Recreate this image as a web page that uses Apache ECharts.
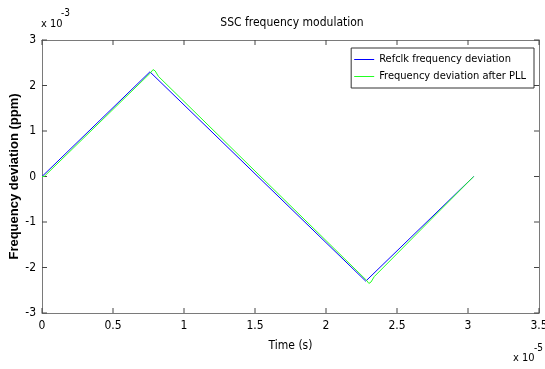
<!DOCTYPE html>
<html>
<head>
<meta charset="utf-8">
<script src="https://cdn.jsdelivr.net/npm/echarts@6/dist/echarts.min.js"></script>
<style>
  html, body { margin: 0; padding: 0; background: #fff; }
  #chart { width: 545px; height: 369px; }
</style>
</head>
<body>
<div id="chart"></div>
<script>
// time in units of 1e-5 s, deviation in units of 1e-3
var refTime = [0, 0.76, 2.28, 3.04]
var refDev = [0, 2.3, -2.3, 0]
var pllTime = [0, 0.015, 0.765, 0.782, 0.797, 0.82, 2.285, 2.302, 2.317, 2.34, 3.04]
var pllDev = [0, 0, 2.28, 2.35, 2.32, 2.2, -2.28, -2.35, -2.32, -2.2, 0]
var xTicks = [0, 0.5, 1, 1.5, 2, 2.5, 3, 3.5]
var yTicks = [-3, -2, -1, 0, 1, 2, 3]

var font = '"Liberation Sans Narrow", "DejaVu Sans Condensed", "Liberation Sans", sans-serif'
var tickLen = 5

function pairs(xs, ys) {
  return xs.map(function (x, i) { return [x, ys[i]] })
}

// MATLAB style box on all four sides
function boxAxis(pos, values, extra) {
  var ax = {
    type: 'value',
    position: pos,
    min: values[0],
    max: values[values.length - 1],
    interval: values[1] - values[0],
    axisLine: { show: true, onZero: false, lineStyle: { color: '#7a7a7a', width: 1 } },
    axisTick: { show: false },
    splitLine: { show: false },
    axisLabel: { show: false }
  }
  return Object.assign(ax, extra || {})
}

function tickLine(x1, y1, x2, y2) {
  return { type: 'line', shape: { x1: x1, y1: y1, x2: x2, y2: y2 }, style: { stroke: '#444', lineWidth: 1 } }
}

// inward ticks, placed through the axes' own scales
function xTickItem(params, api) {
  var v = api.value(0)
  var b = api.coord([v, yTicks[0]])
  var t = api.coord([v, yTicks[yTicks.length - 1]])
  return { type: 'group', children: [
    tickLine(b[0], b[1], b[0], b[1] - tickLen),
    tickLine(t[0], t[1], t[0], t[1] + tickLen)
  ] }
}

function yTickItem(params, api) {
  var v = api.value(1)
  var l = api.coord([xTicks[0], v])
  var r = api.coord([xTicks[xTicks.length - 1], v])
  return { type: 'group', children: [
    tickLine(l[0], l[1], l[0] + tickLen, l[1]),
    tickLine(r[0], r[1], r[0] - tickLen, r[1])
  ] }
}

var chart = echarts.init(document.getElementById('chart'))

chart.setOption({
  animation: false,
  title: {
    text: 'SSC frequency modulation',
    left: 287,
    textAlign: 'center',
    top: 12,
    textStyle: { fontFamily: font, fontSize: 12, fontWeight: 'normal', color: '#000' }
  },
  legend: {
    orient: 'vertical',
    right: 11,
    top: 48,
    padding: [6, 8, 6, 3],
    itemGap: 6,
    itemWidth: 20,
    itemHeight: 1,
    icon: 'rect',
    backgroundColor: '#fff',
    borderColor: '#333',
    borderWidth: 1,
    textStyle: { fontFamily: font, fontSize: 11, color: '#000' },
    data: ['Refclk frequency deviation', 'Frequency deviation after PLL']
  },
  grid: { left: 42, right: 6, top: 40, bottom: 56, outerBoundsMode: 'none' },
  xAxis: [
    boxAxis('bottom', xTicks, {
      name: 'Time (s)',
      nameLocation: 'middle',
      nameGap: 27,
      nameTextStyle: { fontFamily: font, fontSize: 12, color: '#000' },
      axisLabel: { show: true, fontFamily: font, fontSize: 12, color: '#000', margin: 7 }
    }),
    boxAxis('top', xTicks)
  ],
  yAxis: [
    boxAxis('left', yTicks, {
      name: 'Frequency deviation (ppm)',
      nameLocation: 'middle',
      nameGap: 21,
      nameMoveOverlap: false,
      nameTextStyle: { fontFamily: '"Liberation Sans", Arial, sans-serif', fontSize: 13, fontWeight: 'bold', color: '#000' },
      axisLabel: { show: true, fontFamily: font, fontSize: 12, color: '#000', margin: 6 }
    }),
    boxAxis('right', yTicks)
  ],
  graphic: [
    { type: 'text', left: 41, top: 19, style: { text: 'x 10', font: '11px ' + font, fill: '#000' } },
    { type: 'text', left: 61, top: 8, style: { text: '-3', font: '10px ' + font, fill: '#000' } },
    { type: 'text', left: 513, top: 353, style: { text: 'x 10', font: '11px ' + font, fill: '#000' } },
    { type: 'text', left: 534, top: 343, style: { text: '-5', font: '10px ' + font, fill: '#000' } }
  ],
  series: [{
    name: 'xticks',
    type: 'custom',
    silent: true,
    clip: false,
    renderItem: xTickItem,
    data: xTicks.map(function (v) { return [v, yTicks[0]] })
  }, {
    name: 'yticks',
    type: 'custom',
    silent: true,
    clip: false,
    renderItem: yTickItem,
    data: yTicks.map(function (v) { return [xTicks[0], v] })
  }, {
    name: 'Refclk frequency deviation',
    type: 'line',
    symbol: 'none',
    itemStyle: { color: '#0000ff' },
    lineStyle: { width: 1, color: '#0000ff' },
    data: pairs(refTime, refDev)
  }, {
    name: 'Frequency deviation after PLL',
    type: 'line',
    symbol: 'none',
    itemStyle: { color: '#22ff22' },
    lineStyle: { width: 1, color: '#22ff22' },
    data: pairs(pllTime, pllDev)
  }]
})
</script>
</body>
</html>
